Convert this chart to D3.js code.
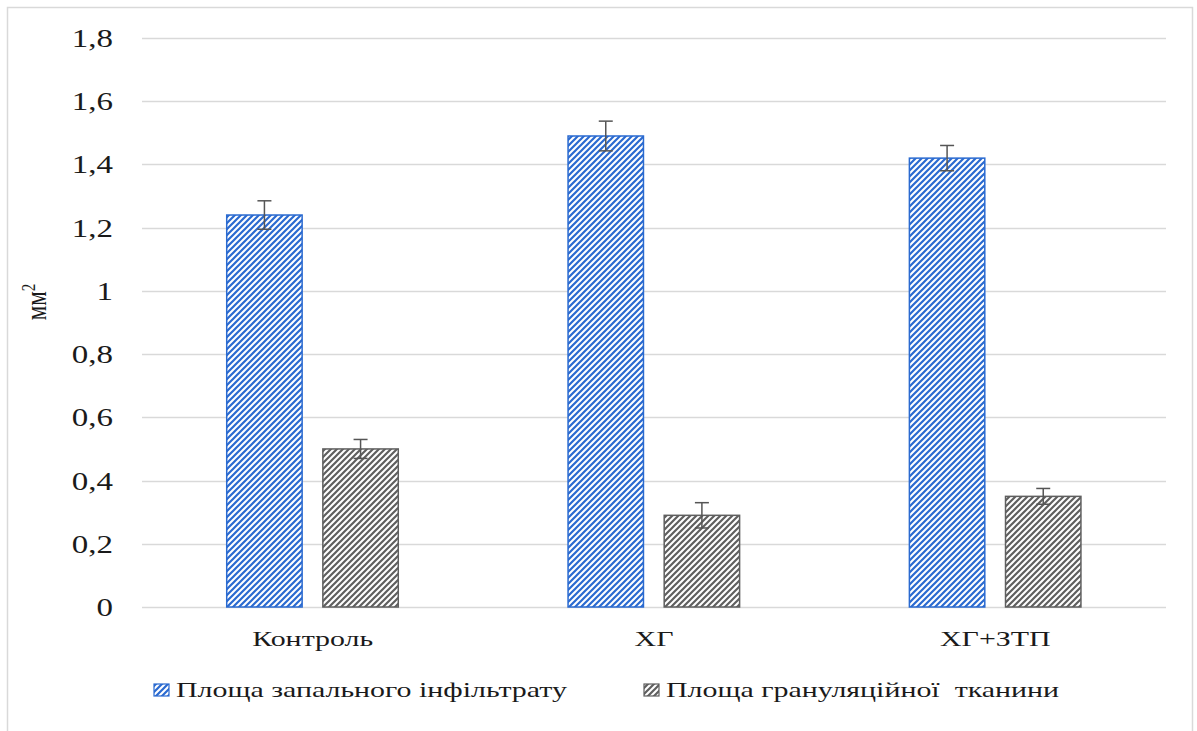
<!DOCTYPE html>
<html>
<head>
<meta charset="utf-8">
<script src="https://cdn.jsdelivr.net/npm/d3@7"></script>
<style>
  html, body { margin: 0; padding: 0; background: #fff; }
</style>
</head>
<body>
<svg id="chart" width="1197" height="731" font-family="Liberation Serif"></svg>
<script>
// Groups and measured areas (mm²) with their error margins
const categories = ["Контроль", "ХГ", "ХГ+ЗТП"];
const seriesNames = ["Площа запального інфільтрату", "Площа грануляційної  тканини"];
const infiltrate = [1.24, 1.49, 1.42];
const infiltrateErr = [0.045, 0.047, 0.04];
const granulation = [0.50, 0.29, 0.35];
const granulationErr = [0.03, 0.04, 0.025];
const yTicks = [0, 0.2, 0.4, 0.6, 0.8, 1, 1.2, 1.4, 1.6, 1.8];

const FONT = "Liberation Serif";
const INK = "#1a1a1a";
const STRETCH = 1.36; // horizontal widening of the lettering

const svg = d3.select("#chart");
const W = 1197, H = 731;
const margin = { left: 142, right: 31, top: 38, bottom: 124 };
const plotW = W - margin.left - margin.right;
const plotH = H - margin.top - margin.bottom;

// Outer frame of the chart area
svg.append("rect").attr("x", 7.5).attr("y", 7.5).attr("width", 1185).attr("height", 740)
  .attr("fill", "none").attr("stroke", "#d9d9d9").attr("stroke-width", 1.5);

// Hatch patterns
const defs = svg.append("defs");
function hatch(id, color) {
  const p = defs.append("pattern").attr("id", id).attr("patternUnits", "userSpaceOnUse")
    .attr("width", 6).attr("height", 6);
  p.append("rect").attr("width", 6).attr("height", 6).attr("fill", "#fff");
  p.append("path").attr("d", "M-1,1 L1,-1 M0,6 L6,0 M5,7 L7,5")
    .attr("stroke", color).attr("stroke-width", 2.2);
}
hatch("hatchBlue", "#2a6ad0");
hatch("hatchGray", "#5f5f5f");

// Text helper: places a label at (x, y) with its glyphs widened horizontally
function label(parent, x, y, str, size, anchor, sx) {
  return parent.append("text")
    .attr("transform", `translate(${x},${y}) scale(${sx},1)`)
    .attr("font-family", FONT).attr("font-size", size).attr("fill", INK)
    .attr("text-anchor", anchor).attr("xml:space", "preserve")
    .text(str);
}

const g = svg.append("g").attr("transform", `translate(${margin.left},${margin.top})`);

const y = d3.scaleLinear().domain([0, 1.8]).range([plotH, 0]);
const x0 = d3.scaleBand().domain(categories).range([0, plotW]).paddingInner(0).paddingOuter(0);
const x1 = d3.scaleBand().domain([0, 1]).range([x0.bandwidth() * 0.246, x0.bandwidth() * 0.753]).paddingInner(0.2);

// Gridlines
g.append("g").selectAll("line").data(yTicks).join("line")
  .attr("x1", 0).attr("x2", plotW)
  .attr("y1", d => Math.round(y(d)) + 0.5).attr("y2", d => Math.round(y(d)) + 0.5)
  .attr("stroke", "#d9d9d9").attr("stroke-width", 1.3);

// Y tick labels
const fmt = d => String(d).replace(".", ",");
const yLab = g.append("g");
yTicks.forEach(t => label(yLab, -29, y(t) + 9, fmt(t), 25, "end", 1.32));

// Category labels
const xLab = g.append("g");
categories.forEach(c => label(xLab, x0(c) + x0.bandwidth() / 2, plotH + 39, c, 22, "middle", STRETCH));

// Y axis title (mm²)
const yTitle = svg.append("text").attr("transform", "translate(46,302) rotate(-90) scale(1,1.25)")
  .attr("font-family", FONT).attr("font-size", 23).attr("fill", INK).attr("text-anchor", "middle");
yTitle.append("tspan").text("мм");
yTitle.append("tspan").attr("dy", -9).attr("font-size", 15).text("2");

// Bars
const series = [
  { vals: infiltrate, errs: infiltrateErr, fill: "url(#hatchBlue)", stroke: "#2a6ad0" },
  { vals: granulation, errs: granulationErr, fill: "url(#hatchGray)", stroke: "#5f5f5f" }
];
series.forEach((s, si) => {
  const grp = g.append("g");
  grp.selectAll("rect").data(categories).join("rect")
    .attr("x", c => x0(c) + x1(si) + 0.75)
    .attr("y", (c, i) => y(s.vals[i]))
    .attr("width", x1.bandwidth() - 1.5)
    .attr("height", (c, i) => y(0) - y(s.vals[i]))
    .attr("fill", s.fill).attr("stroke", s.stroke).attr("stroke-width", 1.5);
  // Error bars
  const eb = g.append("g").attr("stroke", "#555").attr("stroke-width", 1.5);
  categories.forEach((c, i) => {
    const cx = x0(c) + x1(si) + x1.bandwidth() / 2;
    const top = y(s.vals[i] + s.errs[i]), bot = y(s.vals[i] - s.errs[i]);
    eb.append("line").attr("x1", cx).attr("x2", cx).attr("y1", top).attr("y2", bot);
    eb.append("line").attr("x1", cx - 7).attr("x2", cx + 7).attr("y1", top).attr("y2", top);
    eb.append("line").attr("x1", cx - 7).attr("x2", cx + 7).attr("y1", bot).attr("y2", bot);
  });
});

// Legend
const legendItems = [
  { name: seriesNames[0], fill: "url(#hatchBlue)", stroke: "#2a6ad0", x: 154 },
  { name: seriesNames[1], fill: "url(#hatchGray)", stroke: "#5f5f5f", x: 644 }
];
const lg = svg.append("g");
legendItems.forEach(it => {
  lg.append("rect").attr("x", it.x).attr("y", 684).attr("width", 15).attr("height", 12)
    .attr("fill", it.fill).attr("stroke", it.stroke).attr("stroke-width", 1.2);
  label(lg, it.x + 22, 697, it.name, 22, "start", STRETCH);
});
</script>
</body>
</html>
